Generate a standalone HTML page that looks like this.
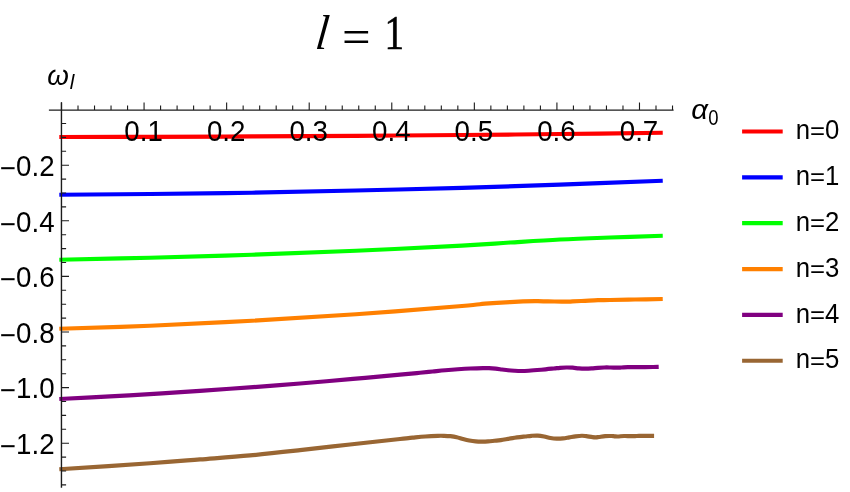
<!DOCTYPE html><html><head><meta charset="utf-8"><title>l = 1</title>
<style>html,body{margin:0;padding:0;background:#fff;overflow:hidden}svg{display:block;will-change:transform}text{font-family:"Liberation Sans",sans-serif;fill:#000}.s{font-family:"Liberation Serif",serif}</style></head><body>
<svg width="850" height="492" viewBox="0 0 850 492">
<rect width="850" height="492" fill="#fff"/>
<g fill="none" stroke-width="4.20" stroke-linejoin="round" stroke-linecap="butt">
<path stroke="#ff0000" d="M59.30 137.00 C74.42 136.97 117.88 136.90 150.00 136.80 C182.12 136.70 217.67 136.57 252.00 136.40 C286.33 136.23 321.00 136.03 356.00 135.80 C391.00 135.57 428.00 135.30 462.00 135.00 C496.00 134.70 526.54 134.38 560.00 134.00 C593.46 133.62 645.62 132.96 662.75 132.75"/>
<path stroke="#0000ff" d="M59.30 194.75 C74.42 194.62 117.88 194.33 150.00 194.00 C182.12 193.67 217.67 193.33 252.00 192.75 C286.33 192.17 321.00 191.31 356.00 190.50 C391.00 189.69 428.00 188.88 462.00 187.90 C496.00 186.92 526.54 185.79 560.00 184.60 C593.46 183.41 645.62 181.39 662.75 180.75"/>
<path stroke="#00ff00" d="M59.30 259.75 C74.42 259.42 117.88 258.58 150.00 257.75 C182.12 256.92 217.67 255.92 252.00 254.75 C286.33 253.58 321.00 252.28 356.00 250.75 C391.00 249.22 436.33 246.97 462.00 245.60 C487.67 244.22 493.67 243.52 510.00 242.50 C526.33 241.48 543.33 240.33 560.00 239.50 C576.67 238.67 592.88 238.12 610.00 237.50 C627.12 236.88 653.96 236.04 662.75 235.75"/>
<path stroke="#ff8000" d="M59.30 328.75 C74.42 328.25 117.88 327.08 150.00 325.75 C182.12 324.42 217.67 322.67 252.00 320.75 C286.33 318.83 321.00 316.71 356.00 314.25 C391.00 311.79 440.50 307.76 462.00 306.00 C483.50 304.24 477.00 304.35 485.00 303.70 C493.00 303.05 501.67 302.52 510.00 302.10 C518.33 301.68 528.67 301.32 535.00 301.20 C541.33 301.08 542.83 301.32 548.00 301.40 C553.17 301.48 561.90 301.70 566.00 301.70 C570.10 301.70 569.43 301.55 572.60 301.40 C575.77 301.25 580.77 301.00 585.00 300.80 C589.23 300.60 593.83 300.33 598.00 300.20 C602.17 300.07 603.83 300.12 610.00 300.00 C616.17 299.88 626.21 299.67 635.00 299.50 C643.79 299.33 658.12 299.08 662.75 299.00"/>
<path stroke="#800080" d="M59.30 399.00 C67.75 398.57 92.88 397.33 110.00 396.40 C127.12 395.47 147.00 394.32 162.00 393.40 C177.00 392.47 184.83 391.90 200.00 390.85 C215.17 389.80 236.33 388.33 253.00 387.10 C269.67 385.88 283.33 384.87 300.00 383.50 C316.67 382.13 336.33 380.39 353.00 378.90 C369.67 377.41 388.83 375.57 400.00 374.55 C411.17 373.53 414.57 373.26 420.00 372.75 C425.43 372.24 428.40 371.92 432.60 371.50 C436.80 371.08 441.00 370.62 445.20 370.25 C449.40 369.88 453.60 369.54 457.80 369.25 C462.00 368.96 466.20 368.69 470.40 368.50 C474.60 368.31 479.90 368.15 483.00 368.10 C486.10 368.05 486.90 368.10 489.00 368.20 C491.10 368.30 493.43 368.48 495.60 368.70 C497.77 368.92 499.93 369.24 502.00 369.50 C504.07 369.76 505.92 370.04 508.00 370.25 C510.08 370.46 512.37 370.62 514.50 370.75 C516.63 370.88 518.45 371.00 520.80 371.00 C523.15 371.00 525.20 370.96 528.60 370.75 C532.00 370.54 537.00 370.12 541.20 369.75 C545.40 369.38 550.67 368.82 553.80 368.50 C556.93 368.18 557.90 368.02 560.00 367.85 C562.10 367.68 564.28 367.52 566.40 367.50 C568.52 367.48 570.60 367.55 572.70 367.70 C574.80 367.85 576.90 368.25 579.00 368.40 C581.10 368.55 583.20 368.60 585.30 368.60 C587.40 368.60 589.50 368.52 591.60 368.40 C593.70 368.27 595.80 368.00 597.90 367.85 C600.00 367.70 602.10 367.56 604.20 367.50 C606.30 367.44 608.40 367.48 610.50 367.50 C612.60 367.52 614.97 367.65 616.80 367.65 C618.63 367.65 619.67 367.57 621.50 367.50 C623.33 367.43 624.72 367.27 627.80 367.20 C630.88 367.13 635.80 367.13 640.00 367.10 C644.20 367.07 649.88 367.04 653.00 367.00 C656.12 366.96 657.75 366.88 658.70 366.85"/>
<path stroke="#996633" d="M59.30 469.25 C74.42 468.25 126.55 464.89 150.00 463.25 C173.45 461.61 183.33 460.71 200.00 459.40 C216.67 458.09 233.33 456.93 250.00 455.40 C266.67 453.87 283.33 452.02 300.00 450.20 C316.67 448.38 333.33 446.37 350.00 444.50 C366.67 442.63 389.57 440.13 400.00 439.00 C410.43 437.87 408.40 438.12 412.60 437.70 C416.80 437.28 421.00 436.82 425.20 436.50 C429.40 436.18 434.65 435.92 437.80 435.80 C440.95 435.68 442.00 435.73 444.10 435.80 C446.20 435.87 448.30 435.97 450.40 436.20 C452.50 436.43 454.60 436.73 456.70 437.20 C458.80 437.67 460.90 438.45 463.00 439.00 C465.10 439.55 467.20 440.10 469.30 440.50 C471.40 440.90 473.50 441.22 475.60 441.40 C477.70 441.58 479.80 441.60 481.90 441.60 C484.00 441.60 486.10 441.54 488.20 441.40 C490.30 441.26 492.40 440.97 494.50 440.75 C496.60 440.53 497.78 440.54 500.80 440.10 C503.82 439.66 508.53 438.70 512.60 438.10 C516.67 437.50 522.05 436.88 525.20 436.50 C528.35 436.12 529.40 435.95 531.50 435.80 C533.60 435.65 535.70 435.48 537.80 435.60 C539.90 435.72 542.00 436.10 544.10 436.50 C546.20 436.90 548.30 437.63 550.40 438.00 C552.50 438.37 554.60 438.63 556.70 438.70 C558.80 438.77 560.90 438.62 563.00 438.40 C565.10 438.17 567.20 437.70 569.30 437.35 C571.40 437.00 573.50 436.57 575.60 436.30 C577.70 436.03 580.12 435.77 581.90 435.75 C583.68 435.73 584.52 435.96 586.30 436.20 C588.08 436.44 590.98 437.01 592.60 437.20 C594.22 437.39 594.95 437.38 596.00 437.35 C597.05 437.32 597.37 437.21 598.90 437.00 C600.43 436.79 603.10 436.27 605.20 436.10 C607.30 435.93 609.93 435.97 611.50 436.00 C613.07 436.03 613.55 436.22 614.60 436.30 C615.65 436.38 616.22 436.55 617.80 436.50 C619.38 436.45 622.00 436.07 624.10 436.00 C626.20 435.93 628.30 436.10 630.40 436.10 C632.50 436.10 634.60 436.04 636.70 436.00 C638.80 435.96 640.10 435.88 643.00 435.85 C645.90 435.83 652.25 435.85 654.10 435.85"/>
</g>
<g stroke="#1c1c1c" stroke-width="1.1" fill="none">
<path d="M48.9 110H673.6" stroke-width="1.25"/>
<path d="M61.45 102.2V487.8" stroke-width="1.4"/>
<path d="M61.50 110v-7.5M78.01 110v-4.6M94.53 110v-4.6M111.04 110v-4.6M127.56 110v-4.6M144.07 110v-7.5M160.58 110v-4.6M177.10 110v-4.6M193.61 110v-4.6M210.13 110v-4.6M226.64 110v-7.5M243.15 110v-4.6M259.67 110v-4.6M276.18 110v-4.6M292.70 110v-4.6M309.21 110v-7.5M325.72 110v-4.6M342.24 110v-4.6M358.75 110v-4.6M375.27 110v-4.6M391.78 110v-7.5M408.29 110v-4.6M424.81 110v-4.6M441.32 110v-4.6M457.84 110v-4.6M474.35 110v-7.5M490.86 110v-4.6M507.38 110v-4.6M523.89 110v-4.6M540.41 110v-4.6M556.92 110v-7.5M573.43 110v-4.6M589.95 110v-4.6M606.46 110v-4.6M622.98 110v-4.6M639.49 110v-7.5M656.00 110v-4.6M672.52 110v-4.6M61.5 123.50h4.6M61.5 137.40h4.6M61.5 151.30h4.6M61.5 165.20h7.5M61.5 179.10h4.6M61.5 193.00h4.6M61.5 206.90h4.6M61.5 220.80h7.5M61.5 234.70h4.6M61.5 248.60h4.6M61.5 262.50h4.6M61.5 276.40h7.5M61.5 290.30h4.6M61.5 304.20h4.6M61.5 318.10h4.6M61.5 332.00h7.5M61.5 345.90h4.6M61.5 359.80h4.6M61.5 373.70h4.6M61.5 387.60h7.5M61.5 401.50h4.6M61.5 415.40h4.6M61.5 429.30h4.6M61.5 443.20h7.5M61.5 457.10h4.6M61.5 471.00h4.6M61.5 484.90h4.6"/>
</g>
<text transform="translate(143.57 141.40) scale(1.000 1.042)" font-size="27.70" text-anchor="middle" >0.1</text>
<text transform="translate(226.14 141.40) scale(1.000 1.042)" font-size="27.70" text-anchor="middle" >0.2</text>
<text transform="translate(308.71 141.40) scale(1.000 1.042)" font-size="27.70" text-anchor="middle" >0.3</text>
<text transform="translate(391.28 141.40) scale(1.000 1.042)" font-size="27.70" text-anchor="middle" >0.4</text>
<text transform="translate(473.85 141.40) scale(1.000 1.042)" font-size="27.70" text-anchor="middle" >0.5</text>
<text transform="translate(556.42 141.40) scale(1.000 1.042)" font-size="27.70" text-anchor="middle" >0.6</text>
<text transform="translate(638.99 141.40) scale(1.000 1.042)" font-size="27.70" text-anchor="middle" >0.7</text>
<text transform="translate(54.60 175.90) scale(1.000 1.042)" font-size="27.70" text-anchor="end" ><tspan dy="2.0">−</tspan><tspan dy="-2.0">0.2</tspan></text>
<text transform="translate(54.60 231.50) scale(1.000 1.042)" font-size="27.70" text-anchor="end" ><tspan dy="2.0">−</tspan><tspan dy="-2.0">0.4</tspan></text>
<text transform="translate(54.60 287.10) scale(1.000 1.042)" font-size="27.70" text-anchor="end" ><tspan dy="2.0">−</tspan><tspan dy="-2.0">0.6</tspan></text>
<text transform="translate(54.60 342.70) scale(1.000 1.042)" font-size="27.70" text-anchor="end" ><tspan dy="2.0">−</tspan><tspan dy="-2.0">0.8</tspan></text>
<text transform="translate(54.60 398.30) scale(1.000 1.042)" font-size="27.70" text-anchor="end" ><tspan dy="2.0">−</tspan><tspan dy="-2.0">1.0</tspan></text>
<text transform="translate(54.60 453.90) scale(1.000 1.042)" font-size="27.70" text-anchor="end" ><tspan dy="2.0">−</tspan><tspan dy="-2.0">1.2</tspan></text>
<text transform="translate(47.20 84.90) scale(1.040 1.017)" font-size="26.70" text-anchor="start" font-style="italic">ω</text>
<text transform="translate(69.80 89.40) scale(1.030 1.040)" font-size="20.00" text-anchor="start" font-style="italic">l</text>
<text transform="translate(691.30 119.45) scale(1.040 0.980)" font-size="28.20" text-anchor="start" font-style="italic">α</text>
<text transform="translate(708.35 125.15) scale(1.000 1.160)" font-size="18.50" text-anchor="start" >0</text>
<text transform="translate(314.40 48.80) skewX(-6.5) scale(1.000 1.100)" font-size="44.50" text-anchor="start" class="s" font-style="italic">l</text>
<text transform="translate(341.90 52.75) scale(1.065 1.000)" font-size="47.60" text-anchor="start" class="s">=</text>
<text transform="translate(384.50 48.50) scale(0.880 1.100)" font-size="44.50" text-anchor="start" class="s" stroke="#000" stroke-width="0.55">1</text>
<path d="M742.1 131.50H782.7" stroke="#ff0000" stroke-width="4.20" fill="none"/>
<text transform="translate(795.70 139.20) scale(1.000 1.090)" font-size="25.75" text-anchor="start" >n</text>
<text transform="translate(810.00 139.30) scale(1.000 0.905)" font-size="25.75" text-anchor="start" >=</text>
<text transform="translate(825.06 139.20) scale(1.000 1.090)" font-size="25.75" text-anchor="start" >0</text>
<path d="M742.1 177.35H782.7" stroke="#0000ff" stroke-width="4.20" fill="none"/>
<text transform="translate(795.70 185.05) scale(1.000 1.090)" font-size="25.75" text-anchor="start" >n</text>
<text transform="translate(810.00 185.15) scale(1.000 0.905)" font-size="25.75" text-anchor="start" >=</text>
<text transform="translate(825.06 185.05) scale(1.000 1.090)" font-size="25.75" text-anchor="start" >1</text>
<path d="M742.1 223.20H782.7" stroke="#00ff00" stroke-width="4.20" fill="none"/>
<text transform="translate(795.70 230.90) scale(1.000 1.090)" font-size="25.75" text-anchor="start" >n</text>
<text transform="translate(810.00 231.00) scale(1.000 0.905)" font-size="25.75" text-anchor="start" >=</text>
<text transform="translate(825.06 230.90) scale(1.000 1.090)" font-size="25.75" text-anchor="start" >2</text>
<path d="M742.1 269.05H782.7" stroke="#ff8000" stroke-width="4.20" fill="none"/>
<text transform="translate(795.70 276.75) scale(1.000 1.090)" font-size="25.75" text-anchor="start" >n</text>
<text transform="translate(810.00 276.85) scale(1.000 0.905)" font-size="25.75" text-anchor="start" >=</text>
<text transform="translate(825.06 276.75) scale(1.000 1.090)" font-size="25.75" text-anchor="start" >3</text>
<path d="M742.1 314.90H782.7" stroke="#800080" stroke-width="4.20" fill="none"/>
<text transform="translate(795.70 322.60) scale(1.000 1.090)" font-size="25.75" text-anchor="start" >n</text>
<text transform="translate(810.00 322.70) scale(1.000 0.905)" font-size="25.75" text-anchor="start" >=</text>
<text transform="translate(825.06 322.60) scale(1.000 1.090)" font-size="25.75" text-anchor="start" >4</text>
<path d="M742.1 360.75H782.7" stroke="#996633" stroke-width="4.20" fill="none"/>
<text transform="translate(795.70 368.45) scale(1.000 1.090)" font-size="25.75" text-anchor="start" >n</text>
<text transform="translate(810.00 368.55) scale(1.000 0.905)" font-size="25.75" text-anchor="start" >=</text>
<text transform="translate(825.06 368.45) scale(1.000 1.090)" font-size="25.75" text-anchor="start" >5</text>
</svg></body></html>
